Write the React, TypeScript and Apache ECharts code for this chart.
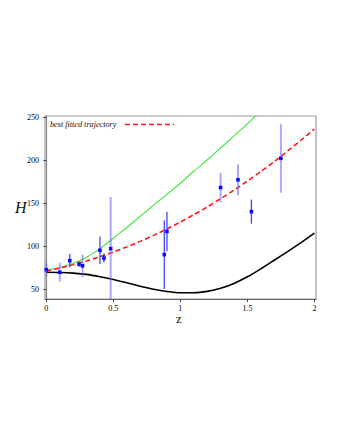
import React, { useEffect, useRef } from "react";
import * as echarts from "echarts";

// Curve sample positions (redshift z)
const zRedBlack = [0, 0.1, 0.2, 0.3, 0.4, 0.5, 0.6, 0.7, 0.8, 0.9, 1.0, 1.1, 1.2, 1.3, 1.4, 1.5, 1.6, 1.7, 1.8, 1.9, 2.0];
const redFit = [71, 74.4, 78.3, 82.7, 87.6, 93, 99, 105.4, 112.4, 119.9, 127.9, 136.4, 145.4, 155, 165, 175.6, 186.7, 198, 210.5, 223, 236];
const blackCurve = [69.5, 69.3, 68.5, 67, 64.3, 61, 57.2, 53.3, 49.8, 47.2, 45.7, 45.7, 47.3, 50.8, 56.5, 64.2, 73.5, 83.5, 93.5, 104, 115];
const zGreen = [0, 0.1, 0.2, 0.3, 0.4, 0.5, 0.6, 0.7, 0.8, 0.9, 1.0, 1.1, 1.2, 1.3, 1.4, 1.5, 1.6];
const greenCurve = [72, 75, 80, 87, 97, 109, 121.5, 134.5, 147.5, 160, 173, 187, 200, 214, 228, 242, 257];

// Observational H(z) points
const obsZ = [0, 0.1, 0.175, 0.244, 0.27, 0.4, 0.43, 0.48, 0.88, 0.9, 1.3, 1.43, 1.53, 1.75];
const obsH = [72.5, 69.5, 83, 79, 77, 95, 86, 97, 90, 117, 168, 177, 140, 202];
const obsErr = [7.5, 11, 8, 3, 13, 16, 5, 60, 40, 23, 17, 18, 14, 40];
// error bar style: 0 light, 1 saturated, 2 dark
const obsKind = [0, 0, 1, 2, 0, 1, 2, 0, 1, 1, 0, 0, 1, 0];

const xTicks = [0, 0.5, 1, 1.5, 2];
const yTicks = [50, 100, 150, 200, 250];
const legendLabel = "best fitted trajectory";

const barColors = ["rgba(110,110,255,0.6)", "#4545ff", "#333344"];

export default function App() {
  const ref = useRef<HTMLDivElement>(null);
  useEffect(() => {
    if (!ref.current) return;
    const chart = echarts.init(ref.current, null, { renderer: "svg" });
    const serif = "'Liberation Serif', 'Times New Roman', serif";
    const option: any = {
      animation: false,
      backgroundColor: "#ffffff",
      grid: { left: 45, right: 24, top: 116, bottom: 141, show: true, borderColor: "#999", borderWidth: 1.2, containLabel: false },
      xAxis: {
        type: "value",
        min: -0.01,
        max: 2.012,
        axisLine: { show: true, lineStyle: { color: "#666", width: 1.2 } },
        axisTick: { show: true, inside: false, length: 3, customValues: xTicks, lineStyle: { color: "#444" } },
        axisLabel: { customValues: xTicks, formatter: (v: number) => String(v), fontFamily: serif, fontSize: 8, color: "#000", margin: 5 },
        splitLine: { show: false },
      },
      yAxis: {
        type: "value",
        min: 38.4,
        max: 251.2,
        axisLine: { show: true, lineStyle: { color: "#888", width: 1.2 } },
        axisTick: { show: true, inside: false, length: 3, customValues: yTicks, lineStyle: { color: "#444" } },
        axisLabel: { customValues: yTicks, formatter: (v: number) => String(v), fontFamily: serif, fontSize: 8, color: "#000", margin: 6 },
        splitLine: { show: false },
      },
      series: [
        {
          type: "line",
          name: "black",
          data: zRedBlack.map((z, i) => [z, blackCurve[i]]),
          smooth: 0.2,
          showSymbol: false,
          lineStyle: { color: "#000", width: 1.6 },
          z: 2,
        },
        {
          type: "line",
          name: "green",
          data: zGreen.map((z, i) => [z, greenCurve[i]]),
          smooth: 0.2,
          showSymbol: false,
          clip: true,
          lineStyle: { color: "#3ee83e", width: 1.1 },
          z: 2,
        },
        {
          type: "line",
          name: legendLabel,
          data: zRedBlack.map((z, i) => [z, redFit[i]]),
          smooth: 0.2,
          showSymbol: false,
          lineStyle: { color: "#ff1a1a", width: 1.6, type: [5, 3] },
          z: 3,
        },
        {
          type: "custom",
          name: "data",
          data: obsZ.map((z, i) => [z, obsH[i], obsErr[i], obsKind[i]]),
          z: 4,
          renderItem: (params: any, api: any) => {
            const z = api.value(0);
            const h = api.value(1);
            const e = api.value(2);
            const k = api.value(3);
            const cs = params.coordSys;
            const top = api.coord([z, h + e]);
            const bot = api.coord([z, h - e]);
            const c = api.coord([z, h]);
            const yTop = Math.max(top[1], cs.y);
            const yBot = Math.min(bot[1], cs.y + cs.height);
            return {
              type: "group",
              children: [
                {
                  type: "line",
                  shape: { x1: c[0], y1: yTop, x2: c[0], y2: yBot },
                  style: { stroke: barColors[k], lineWidth: k === 0 ? 2 : 1.3 },
                },
                {
                  type: "rect",
                  shape: { x: c[0] - 1.8, y: c[1] - 1.8, width: 3.6, height: 3.6 },
                  style: { fill: "#0a0aff" },
                },
              ],
            };
          },
        },
      ],
      graphic: [
        {
          type: "text",
          left: 50,
          top: 120,
          style: { text: legendLabel, font: `italic 8.2px ${serif}`, fill: "#111" },
        },
        {
          type: "line",
          shape: { x1: 125, y1: 124.5, x2: 174, y2: 124.5 },
          style: { stroke: "#ff1a1a", lineWidth: 1.6, lineDash: [5, 3] },
        },
        {
          type: "text",
          left: 15,
          top: 199,
          style: { text: "H", font: `italic 16px ${serif}`, fill: "#111" },
        },
        {
          type: "text",
          left: 176,
          top: 312,
          style: { text: "z", font: `13px ${serif}`, fill: "#111" },
        },
      ],
    };
    chart.setOption(option);
    return () => chart.dispose();
  }, []);
  return (
    <div
      ref={ref}
      style={{ position: "fixed", left: 0, top: 0, width: 340, height: 440, background: "#fff" }}
    />
  );
}
